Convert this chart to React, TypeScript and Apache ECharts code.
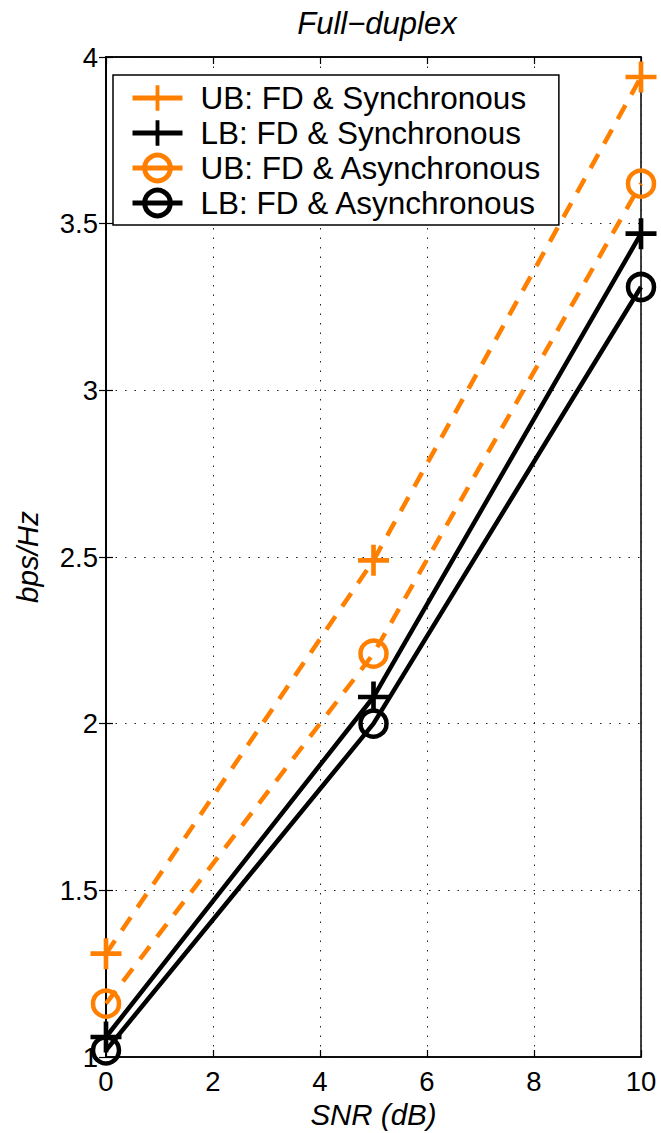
import React, { useEffect, useRef } from "react";
import * as echarts from "echarts";

const snr = [0, 5, 10];
const ubSync = [1.31, 2.49, 3.94];
const lbSync = [1.06, 2.08, 3.47];
const ubAsync = [1.16, 2.21, 3.62];
const lbAsync = [1.02, 2.0, 3.31];
const seriesNames = [
  "UB: FD & Synchronous",
  "LB: FD & Synchronous",
  "UB: FD & Asynchronous",
  "LB: FD & Asynchronous",
];
const chartTitle = "Full−duplex";
const xName = "SNR (dB)";
const yName = "bps/Hz";

const ORANGE = "#ff8000";
const BLACK = "#000000";
const PLUS = "path://M-1,-0.15L1,-0.15L1,0.15L-1,0.15Z M-0.15,-1L0.15,-1L0.15,1L-0.15,1Z";
const FONT = "Liberation Sans, Arial, Helvetica, sans-serif";

export default function App() {
  const ref = useRef<HTMLDivElement>(null);
  useEffect(() => {
    if (!ref.current) return;
    const chart = echarts.init(ref.current, null, { renderer: "svg" });
    const colors = [ORANGE, BLACK, ORANGE, BLACK];
    const isPlus = [true, true, false, false];
    const mk = (i: number, values: number[], dashed: boolean) => {
      const color = colors[i];
      const plus = isPlus[i];
      return {
        name: seriesNames[i],
        type: "line",
        data: snr.map((x, k) => [x, values[k]]),
        clip: false,
        symbol: plus ? PLUS : "circle",
        symbolSize: plus ? 31 : 26,
        lineStyle: { color, width: 4.5, type: dashed ? [16, 12] : "solid" },
        itemStyle: plus
          ? { color, borderWidth: 0 }
          : { color: "rgba(255,255,255,0)", borderColor: color, borderWidth: 4.5 },
        emphasis: { disabled: true },
        z: 3,
      };
    };
    const axisCommon = {
      axisLine: { show: true, lineStyle: { color: BLACK, width: 1.5 } },
      axisTick: { show: true, inside: true, length: 7, lineStyle: { color: BLACK, width: 1.2 } },
    };
    chart.setOption({
      animation: false,
      backgroundColor: "#ffffff",
      textStyle: { fontFamily: FONT },
      title: {
        text: chartTitle,
        left: 372,
        textAlign: "center",
        top: 3,
        textStyle: { fontFamily: FONT, fontSize: 31, fontWeight: "normal", fontStyle: "italic", color: BLACK },
      },
      grid: {
        left: 106,
        top: 57,
        width: 535,
        height: 1000,
        show: true,
        borderColor: BLACK,
        borderWidth: 1.5,
        backgroundColor: "transparent",
        containLabel: false,
        outerBoundsMode: "none",
      },
      legend: {
        data: seriesNames.map((name, i) => ({
          name,
          itemStyle: isPlus[i]
            ? { color: colors[i], borderWidth: 0 }
            : { color: "rgba(255,255,255,0)", borderColor: colors[i], borderWidth: 5 },
          lineStyle: { color: colors[i], width: 5, type: "solid" },
        })),
        orient: "vertical",
        left: 113,
        top: 75,
        backgroundColor: "#ffffff",
        borderColor: BLACK,
        borderWidth: 1.5,
        borderRadius: 0,
        padding: [7, 17, 6, 17],
        itemWidth: 50,
        itemHeight: 32,
        itemGap: 3,
        selectedMode: false,
        textStyle: { fontFamily: FONT, fontSize: 31.5, color: BLACK, padding: [0, 0, 0, 13], lineHeight: 32 },
      },
      xAxis: [
        {
          type: "value",
          min: 0,
          max: 10,
          interval: 2,
          position: "bottom",
          name: xName,
          nameLocation: "middle",
          nameGap: 28,
          nameTextStyle: { fontFamily: FONT, fontSize: 29.5, fontStyle: "italic", color: BLACK },
          ...axisCommon,
          axisLabel: { fontFamily: FONT, fontSize: 27.5, color: BLACK, margin: 10 },
          splitLine: { show: true, lineStyle: { color: "#222", width: 1, type: [1.5, 8] } },
        },
        {
          type: "value",
          min: 0,
          max: 10,
          interval: 2,
          position: "top",
          ...axisCommon,
          axisLabel: { show: false },
          splitLine: { show: false },
        },
      ],
      yAxis: [
        {
          type: "value",
          min: 1,
          max: 4,
          interval: 0.5,
          position: "left",
          name: yName,
          nameLocation: "middle",
          nameGap: 64,
          nameTextStyle: { fontFamily: FONT, fontSize: 29.5, fontStyle: "italic", color: BLACK },
          ...axisCommon,
          axisLabel: { fontFamily: FONT, fontSize: 27.5, color: BLACK, margin: 8 },
          splitLine: { show: true, lineStyle: { color: "#222", width: 1, type: [1.5, 8] } },
        },
        {
          type: "value",
          min: 1,
          max: 4,
          interval: 0.5,
          position: "right",
          ...axisCommon,
          axisLabel: { show: false },
          splitLine: { show: false },
        },
      ],
      series: [
        mk(0, ubSync, true),
        mk(1, lbSync, false),
        mk(2, ubAsync, true),
        mk(3, lbAsync, false),
      ],
    });
    return () => chart.dispose();
  }, []);
  return (
    <div
      ref={ref}
      style={{ position: "fixed", left: 0, top: 0, width: 661, height: 1133, background: "#fff" }}
    />
  );
}
